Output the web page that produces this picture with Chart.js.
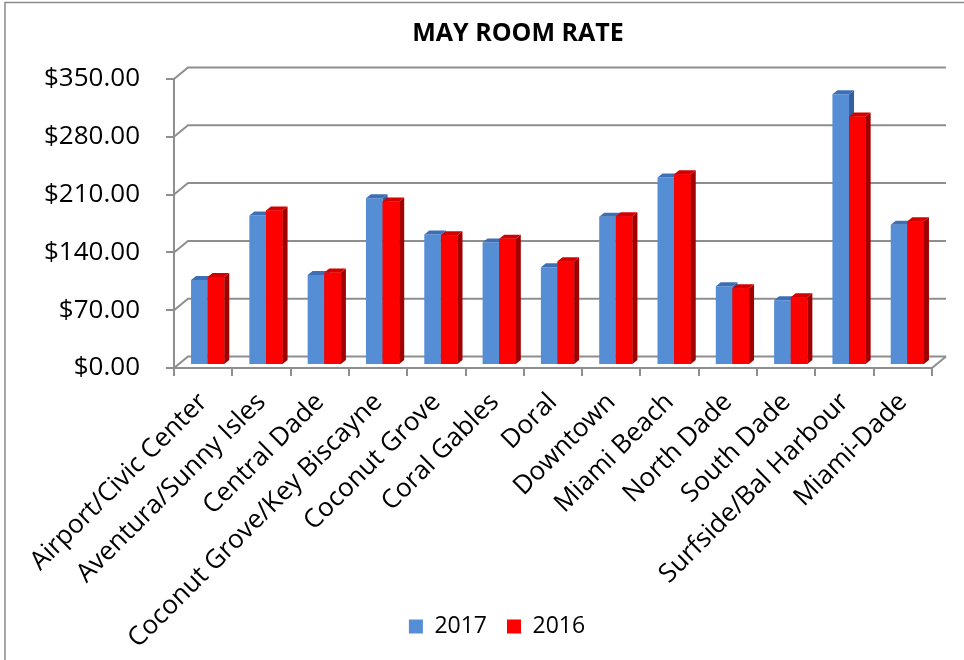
<!DOCTYPE html>
<html><head><meta charset="utf-8">
<script src="https://cdn.jsdelivr.net/npm/chart.js@4.4.1/dist/chart.umd.min.js"></script>
<style>
html,body{margin:0;padding:0;background:#fff;}
#wrap{position:relative;width:964px;height:660px;}
</style></head><body>
<div id="wrap"><canvas id="c" width="964" height="660"></canvas></div>
<script>
const categories = ['Airport/Civic Center','Aventura/Sunny Isles','Central Dade','Coconut Grove/Key Biscayne','Coconut Grove','Coral Gables','Doral','Downtown','Miami Beach','North Dade','South Dade','Surfside/Bal Harbour','Miami-Dade'];
const rate2017 = [103, 181, 109, 202, 158, 148.5, 118.5, 179.5, 227, 95.5, 78.5, 328, 170];
const rate2016 = [106.5, 187, 112, 198, 157, 153, 125.5, 180, 231, 93, 82, 301, 174];
const seriesNames = ['2017', '2016'];
const yTicks = [0, 70, 140, 210, 280, 350];
const chartTitle = 'MAY ROOM RATE';

const FONT = "'Open Sans', sans-serif";
const GRID = '#8e8e8e';
const WALL_DX = 14, WALL_DY = -11.5;   // back wall depth
const BAR_DX = 5, BAR_DY = -4;       // bar depth
const BAR_SHIFT_X = 4.5, BAR_SHIFT_Y = -3;
const TITLE_CENTER_X = 518, LEGEND_CENTER_X = 497;
const faceColors = [
  {top:'#3d6fb6', side:'#355f9c'},
  {top:'#d40000', side:'#a00000'}
];

function drawFaces(ctx, el, c) {
  const p = el.getProps(['x','y','width','base'], true);
  const l = p.x - p.width/2, r = p.x + p.width/2;
  ctx.fillStyle = c.side;
  ctx.beginPath();
  ctx.moveTo(r, p.y); ctx.lineTo(r + BAR_DX, p.y + BAR_DY);
  ctx.lineTo(r + BAR_DX, p.base + BAR_DY); ctx.lineTo(r, p.base);
  ctx.closePath(); ctx.fill();
  ctx.fillStyle = c.top;
  ctx.beginPath();
  ctx.moveTo(l, p.y); ctx.lineTo(r, p.y);
  ctx.lineTo(r + BAR_DX, p.y + BAR_DY); ctx.lineTo(l + BAR_DX, p.y + BAR_DY);
  ctx.closePath(); ctx.fill();
}

const threeD = {
  id: 'threeD',
  afterLayout(chart) {
    const t = chart.titleBlock;
    if (t) { const w = t.right - t.left; t.left = TITLE_CENTER_X - w/2; t.right = TITLE_CENTER_X + w/2; }
    const g = chart.legend;
    if (g) { const w = g.right - g.left; g.left = LEGEND_CENTER_X - w/2; g.right = LEGEND_CENTER_X + w/2; }
    chart.scales.x._computeLabelArea = () => undefined;
  },
  beforeDraw(chart) {
    const ctx = chart.ctx;
    ctx.save();
    ctx.fillStyle = '#fff';
    ctx.fillRect(0, 0, chart.width, chart.height);
    ctx.strokeStyle = '#8a8a8a';
    ctx.lineWidth = 1.5;
    ctx.strokeRect(5, 2.5, 1200, 1200);
    ctx.restore();
  },
  beforeDatasetsDraw(chart) {
    const ctx = chart.ctx, y = chart.scales.y, a = chart.chartArea;
    ctx.save();
    ctx.strokeStyle = GRID;
    ctx.lineWidth = 2;
    yTicks.forEach(v => {
      const py = y.getPixelForValue(v);
      ctx.beginPath();
      ctx.moveTo(a.left, py);
      ctx.lineTo(a.left + WALL_DX, py + WALL_DY);
      ctx.lineTo(a.right + WALL_DX, py + WALL_DY);
      ctx.stroke();
    });
    const p0 = y.getPixelForValue(0);
    ctx.beginPath();
    ctx.moveTo(a.right, p0);
    ctx.lineTo(a.right + WALL_DX, p0 + WALL_DY);
    ctx.stroke();
    ctx.restore();
    ctx.save();
    ctx.translate(BAR_SHIFT_X, BAR_SHIFT_Y);
  },
  afterDatasetsDraw(chart) {
    const ctx = chart.ctx;
    const m0 = chart.getDatasetMeta(0), m1 = chart.getDatasetMeta(1);
    m0.data.forEach((el, i) => {
      drawFaces(ctx, el, faceColors[0]);
      const el1 = m1.data[i];
      if (el1) { el1.draw(ctx); drawFaces(ctx, el1, faceColors[1]); }
    });
    ctx.restore();
  }
};

new Chart(document.getElementById('c'), {
  type: 'bar',
  data: {
    labels: categories,
    datasets: [
      {label: seriesNames[0], data: rate2017, backgroundColor: '#568ed6', clip: false},
      {label: seriesNames[1], data: rate2016, backgroundColor: '#ff0000', clip: false}
    ]
  },
  options: {
    responsive: false,
    animation: false,
    devicePixelRatio: 1,
    layout: {padding: {left: 8, right: 32, top: 0, bottom: 12}},
    datasets: {bar: {barPercentage: 1, categoryPercentage: 0.57}},
    plugins: {
      title: {display: true, text: chartTitle, color: '#000',
        font: {family: FONT, size: 25, weight: 'bold'}, padding: {top: 19, bottom: 30}},
      legend: {position: 'bottom',
        labels: {color: '#000', font: {family: FONT, size: 23}, boxWidth: 14, boxHeight: 14, padding: 20}},
      tooltip: {enabled: false}
    },
    scales: {
      x: {
        grid: {offset: true, drawOnChartArea: false, drawTicks: true, tickLength: 8, color: GRID, lineWidth: 2},
        border: {color: GRID, width: 2},
        ticks: {color: '#000', font: {family: FONT, size: 26}, minRotation: 45, maxRotation: 45, padding: 11, autoSkip: false},
        afterFit: s => { s.height = 227; }
      },
      y: {
        min: 0, max: 350,
        afterBuildTicks: s => { s.ticks = yTicks.map(v => ({value: v})); },
        grid: {drawOnChartArea: false, drawTicks: true, tickLength: 8, color: GRID, lineWidth: 2},
        border: {color: GRID, width: 2},
        ticks: {color: '#000', font: {family: FONT, size: 26}, padding: 26,
          callback: v => '$' + Number(v).toFixed(2)},
        afterFit: s => { s.width = 166; }
      }
    }
  },
  plugins: [threeD]
});
</script>
</body></html>
